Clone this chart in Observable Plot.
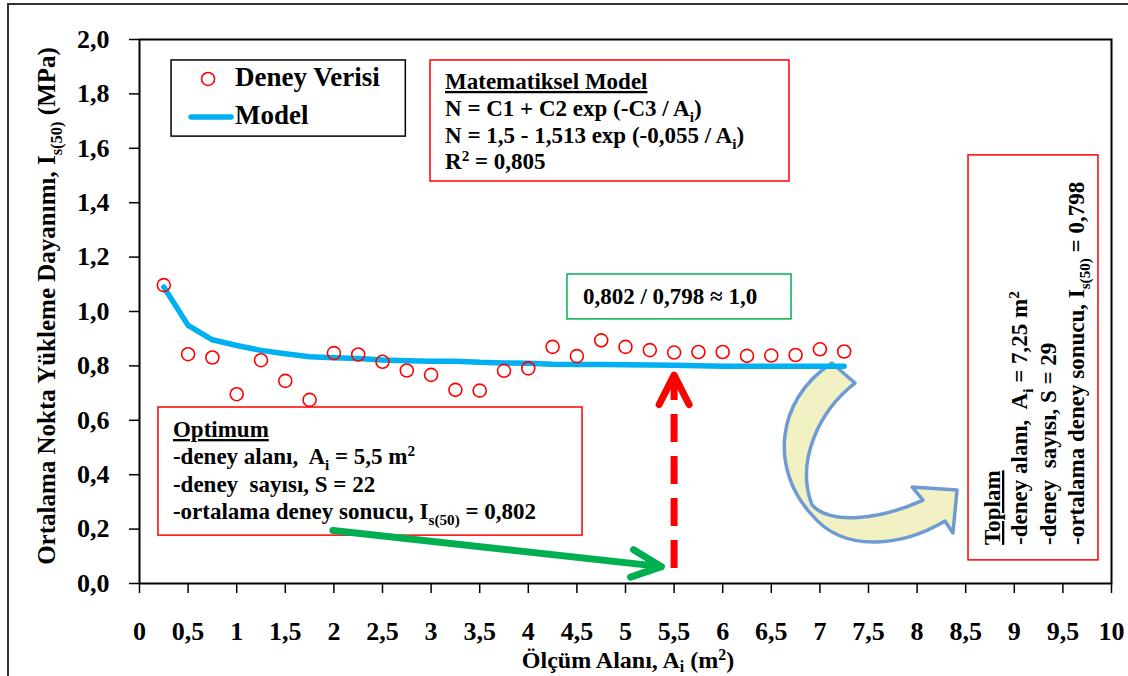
<!DOCTYPE html>
<html><head><meta charset="utf-8">
<script src="https://cdn.jsdelivr.net/npm/d3@7"></script>
<script src="https://cdn.jsdelivr.net/npm/@observablehq/plot@0.6"></script>
<style>
html,body{margin:0;padding:0;background:#fff;}
#chart{position:relative;width:1128px;height:676px;overflow:hidden;}
</style></head><body><div id="chart"></div>
<script>
// ---- data ----
const areas = [0.25,0.5,0.75,1.0,1.25,1.5,1.75,2.0,2.25,2.5,2.75,3.0,3.25,3.5,3.75,4.0,4.25,4.5,4.75,5.0,5.25,5.5,5.75,6.0,6.25,6.5,6.75,7.0,7.25];
const observed = [1.097,0.843,0.831,0.696,0.821,0.745,0.675,0.847,0.842,0.815,0.783,0.767,0.712,0.709,0.782,0.791,0.870,0.836,0.894,0.870,0.858,0.849,0.851,0.851,0.837,0.838,0.840,0.861,0.853];
const model = [1.09,0.949,0.896,0.875,0.857,0.845,0.834,0.830,0.827,0.822,0.819,0.817,0.817,0.813,0.811,0.810,0.806,0.805,0.805,0.804,0.803,0.802,0.801,0.799,0.799,0.799,0.799,0.799,0.799];
const xTicks = [0,0.5,1,1.5,2,2.5,3,3.5,4,4.5,5,5.5,6,6.5,7,7.5,8,8.5,9,9.5,10];
const xTickLabels = ["0","0,5","1","1,5","2","2,5","3","3,5","4","4,5","5","5,5","6","6,5","7","7,5","8","8,5","9","9,5","10"];
const yTicks = [0,0.2,0.4,0.6,0.8,1.0,1.2,1.4,1.6,1.8,2.0];
const yTickLabels = ["0,0","0,2","0,4","0,6","0,8","1,0","1,2","1,4","1,6","1,8","2,0"];

// annotation anchors (data units)
const optimumArrowShaft = [{x:5.5, y1:0.055, y2:0.74}];
const optimumArrowHead = [{x:5.346,y:0.658},{x:5.5,y:0.766},{x:5.654,y:0.658}];
const greenArrow = [{x1:1.99,y1:0.195,x2:5.37,y2:0.062}];

const obsData = areas.map((a,i)=>({a, v:observed[i]}));
const modelData = areas.map((a,i)=>({a, v:model[i]}));
const fmt = (ticks, labels) => d => labels[ticks.findIndex(t => Math.abs(t-d) < 1e-9)];

const chart = Plot.plot({
  width:1128, height:676,
  marginLeft:139, marginRight:17, marginTop:39, marginBottom:93,
  style:{fontFamily:"'Liberation Serif', 'Times New Roman', serif", fontWeight:"bold", fontSize:"26px", color:"#000", background:"#fff", overflow:"visible"},
  x:{domain:[0,10]},
  y:{domain:[0,2]},
  marks:[
    Plot.axisX({ticks:xTicks, tickFormat:fmt(xTicks,xTickLabels), tickSize:10, tickPadding:28, strokeWidth:1.5, label:null}),
    Plot.axisY({ticks:yTicks, tickFormat:fmt(yTicks,yTickLabels), tickSize:10, tickPadding:20, strokeWidth:1.5, label:null}),
    Plot.frame({stroke:"#000", strokeWidth:2}),
    Plot.line(modelData, {x:"a", y:"v", stroke:"#00b0f0", strokeWidth:5.5, strokeLinecap:"round", strokeLinejoin:"round"}),
    Plot.dot(obsData, {x:"a", y:"v", r:6.5, stroke:"#ff0000", strokeWidth:1.6, fill:"none"}),
    Plot.ruleX(optimumArrowShaft, {x:"x", y1:"y1", y2:"y2", stroke:"#ff0000", strokeWidth:7, strokeDasharray:"28,14"}),
    Plot.line(optimumArrowHead, {x:"x", y:"y", stroke:"#ff0000", strokeWidth:7, strokeLinecap:"round", strokeLinejoin:"round"}),
    Plot.arrow(greenArrow, {x1:"x1", y1:"y1", x2:"x2", y2:"y2", stroke:"#00b050", strokeWidth:7, headLength:7, headAngle:50, strokeLinecap:"round", strokeLinejoin:"round"})
  ]
});
document.getElementById("chart").appendChild(chart);

const svg = d3.select(chart);
const X = v => chart.scale("x").apply(v);
const Y = v => chart.scale("y").apply(v);
const FONT = "'Liberation Serif', 'Times New Roman', serif";

function rich(parent, x, y, segs, size, attrs = {}, subK = 0.26, supK = 0.36) {
  const t = parent.append("text").attr("x", x).attr("y", y)
    .attr("font-family", FONT).attr("font-weight", "bold")
    .attr("font-size", size).attr("fill", "#000").attr("text-anchor", "start")
    .attr("xml:space", "preserve").style("white-space", "pre");
  for (const [k, v] of Object.entries(attrs)) t.attr(k, v);
  let shift = 0;
  for (const s of segs) {
    const target = s.sub ? size * subK : s.sup ? -size * supK : 0;
    const ts = t.append("tspan").attr("dy", target - shift).text(s.t);
    if (s.sub || s.sup) ts.attr("font-size", size * 0.66);
    if (s.u) ts.style("text-decoration", "underline");
    shift = target;
  }
  return t;
}
function box(parent, x1, y1, x2, y2, stroke, sw) {
  const L = X(x1), T = Y(y1), R = X(x2), B = Y(y2);
  parent.append("rect").attr("x", L).attr("y", T).attr("width", R - L).attr("height", B - T)
    .attr("fill", "#fff").attr("stroke", stroke).attr("stroke-width", sw);
  return {L, T, R, B};
}

// curved block arrow (data units)
const curved = [
  ["M",7.130,0.809],["L",7.366,0.735],
  ["C",7.007,0.636,6.749,0.452,6.924,0.287],
  ["C",7.109,0.213,7.623,0.232,8.066,0.305],
  ["L",7.953,0.353],["L",8.416,0.342],["L",8.374,0.184],["L",8.292,0.228],
  ["C",7.881,0.140,7.263,0.103,6.924,0.250],
  ["C",6.492,0.415,6.543,0.673,7.130,0.809],["Z"]
];
const d = curved.map(c => c[0] + c.slice(1).map((v,i) => i % 2 === 0 ? X(v) : Y(v)).join(",")).join(" ");
svg.insert("g", 'g[aria-label="line"]').append("path").attr("d", d)
  .attr("fill", "#f1f1c4").attr("stroke", "#6f9bd5").attr("stroke-width", 3.5).attr("stroke-linejoin", "round");

// annotations go beneath the data marks and arrows
const ann = svg.insert("g", 'g[aria-label="line"]').attr("text-anchor", "start");

// outer chart border
ann.append("path").attr("d", "M8,676 L8,4 L1128,4").attr("fill", "none").attr("stroke", "#333").attr("stroke-width", 2);

// legend
{
  const b = box(ann, 0.33, 1.923, 2.74, 1.643, "#000", 1.5);
  ann.append("circle").attr("cx", b.L + 37).attr("cy", b.T + 19).attr("r", 6.5)
    .attr("fill", "none").attr("stroke", "#ff0000").attr("stroke-width", 1.6);
  rich(ann, b.L + 64, b.T + 26, [{t:"Deney Verisi"}], 27);
  ann.append("line").attr("x1", b.L + 20).attr("x2", b.L + 60).attr("y1", b.T + 57).attr("y2", b.T + 57)
    .attr("stroke", "#00b0f0").attr("stroke-width", 5.5).attr("stroke-linecap", "round");
  rich(ann, b.L + 64, b.T + 64, [{t:"Model"}], 27);
}

// mathematical model box
{
  const b = box(ann, 2.994, 1.923, 6.687, 1.478, "#ff0000", 1.5);
  const s = 23, x = b.L + 15;
  rich(ann, x, b.T + 29, [{t:"Matematiksel Model", u:true}], s);
  rich(ann, x, b.T + 56, [{t:"N = C1 + C2 exp (-C3 / A"},{t:"i",sub:1},{t:")"}], s);
  rich(ann, x, b.T + 83, [{t:"N = 1,5 - 1,513 exp (-0,055 / A"},{t:"i",sub:1},{t:")"}], s);
  rich(ann, x, b.T + 109, [{t:"R"},{t:"2",sup:1},{t:" = 0,805"}], s);
}

// ratio box
{
  const b = box(ann, 4.403, 1.136, 6.708, 0.971, "#00b050", 1.5);
  rich(ann, b.L + 16, b.T + 30, [{t:"0,802 / 0,798 ≈ 1,0"}], 23);
}

// optimum box
{
  const b = box(ann, 0.195, 0.647, 4.558, 0.176, "#ff0000", 1.5);
  const s = 23, x = b.L + 15;
  rich(ann, x, b.T + 30, [{t:"Optimum", u:true}], s);
  rich(ann, x, b.T + 57, [{t:"-deney alanı,  A"},{t:"i",sub:1},{t:" = 5,5 m"},{t:"2",sup:1}], s);
  rich(ann, x, b.T + 85, [{t:"-deney  sayısı, S = 22"}], s);
  rich(ann, x, b.T + 112, [{t:"-ortalama deney sonucu, I"},{t:"s(50)",sub:1},{t:" = 0,802"}], s);
}

// toplam box (rotated text)
{
  const b = box(ann, 8.529, 1.574, 9.866, 0.085, "#ff0000", 1.5);
  const s = 23, yb = b.B - 15;
  const offs = [32, 59, 88, 116];
  const lines = [
    [{t:"Toplam", u:true}],
    [{t:"-deney alanı,  A"},{t:"i",sub:1},{t:" = 7,25 m"},{t:"2",sup:1}],
    [{t:"-deney  sayısı, S = 29"}],
    [{t:"-ortalama deney sonucu, I"},{t:"s(50)",sub:1},{t:" = 0,798"}]
  ];
  lines.forEach((segs, i) => {
    const g = ann.append("g").attr("transform", `translate(${b.L + offs[i]},${yb}) rotate(-90)`);
    rich(g, 0, 0, segs, s);
  });
}

// axis titles
{
  const gy = ann.append("g").attr("transform", `translate(55,306) rotate(-90)`);
  rich(gy, 0, 0, [{t:"Ortalama Nokta Yükleme Dayanımı, I"},{t:"s(50)",sub:1},{t:" (MPa)"}], 25, {"text-anchor":"middle"});
  rich(ann, 628, 668, [{t:"Ölçüm Alanı, A"},{t:"i",sub:1},{t:" (m"},{t:"2",sup:1},{t:")"}], 24, {"text-anchor":"middle"}, 0.18, 0.32);
}
</script></body></html>
